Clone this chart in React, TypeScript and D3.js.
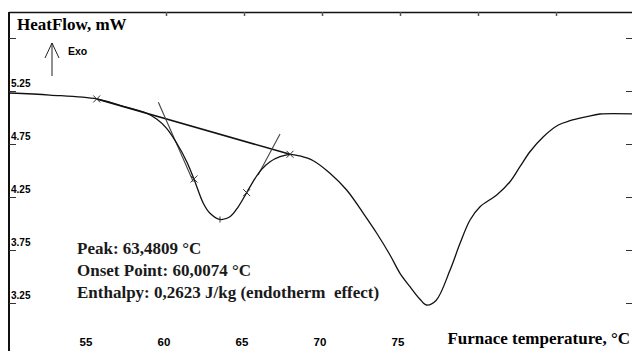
import React, { useRef, useEffect } from "react";
import * as d3 from "d3";

// DSC curve
const temperature = [
  50.0, 52.56, 55.56, 57.05, 58.76, 59.4, 60.04, 60.69, 61.33, 61.79, 62.39, 62.82,
  63.46, 64.1, 64.63, 65.17, 65.71, 66.13, 66.67, 67.31, 67.95, 68.59, 69.44, 70.51,
  71.58, 72.65, 73.51, 74.36, 75.0, 75.64, 76.28, 76.7, 77.31, 78.21, 78.85, 79.49,
  80.13, 81.2, 82.05, 82.69, 83.33, 84.19, 85.15, 85.9, 86.97, 87.82, 90.0,
];
const heatFlow = [
  5.231, 5.212, 5.175, 5.114, 5.040, 4.985, 4.898, 4.757, 4.583, 4.42, 4.191, 4.096,
  4.038, 4.064, 4.158, 4.291, 4.426, 4.511, 4.583, 4.63, 4.653, 4.637, 4.592, 4.474,
  4.316, 4.096, 3.908, 3.703, 3.53, 3.404, 3.285, 3.231, 3.274, 3.561, 3.813, 4.033,
  4.158, 4.269, 4.394, 4.536, 4.677, 4.819, 4.929, 4.97, 5.008, 5.033, 5.033,
];

// construction lines (baseline + tangents), [T, mW] pairs
const baseLine = [[55.56, 5.175], [67.95, 4.653]];
const leftTangent = [[59.51, 5.143], [61.75, 4.394]];
const rightTangent = [[67.31, 4.844], [65.9, 4.458]];
const crossMarks = [[55.56, 5.175], [61.79, 4.42], [65.17, 4.291], [67.95, 4.653]];
const peakMark = [63.46, 4.038];

const yTicks = [5.75, 5.25, 4.75, 4.25, 3.75, 3.25];
const yLabels = ["5.25", "4.75", "4.25", "3.75", "3.25"];
const xTopTicks = [60, 65, 70, 75, 80, 85];
const xLabels = [55, 60, 65, 70, 75];

const infoLines = [
  "Peak: 63,4809 °C",
  "Onset Point: 60,0074 °C",
  "Enthalpy:\u00a00,2623 J/kg (endotherm\u00a0 effect)",
];

const W = 632;
const H = 351;

const App = () => {
  const svgRef = useRef(null);

  useEffect(() => {
    const svg = d3.select(svgRef.current);
    svg.selectAll("*").remove();

    const x = d3.scaleLinear().domain([50, 90]).range([10, 634]);
    const y = d3.scaleLinear().domain([5.25, 3.25]).range([91, 303]);

    const serif = "'Liberation Serif', 'Times New Roman', serif";
    const narrow = "'Liberation Sans Narrow', 'Arial Narrow', 'Liberation Sans', sans-serif";

    svg.append("rect").attr("width", W).attr("height", H).attr("fill", "white");

    // frame
    svg.append("line").attr("x1", 9).attr("x2", W).attr("y1", 12.5).attr("y2", 12.5)
      .attr("stroke", "#111").attr("stroke-width", 1.5);
    svg.append("line").attr("x1", 9).attr("x2", 9).attr("y1", 12).attr("y2", H)
      .attr("stroke", "#111").attr("stroke-width", 2);

    // ticks
    svg.selectAll(".lt").data(yTicks).enter().append("line")
      .attr("x1", 9).attr("x2", 16)
      .attr("y1", d => Math.round(y(d)) + 0.5).attr("y2", d => Math.round(y(d)) + 0.5)
      .attr("stroke", "#333");
    svg.selectAll(".rt").data(yTicks).enter().append("line")
      .attr("x1", 626).attr("x2", W)
      .attr("y1", d => Math.round(y(d)) + 0.5).attr("y2", d => Math.round(y(d)) + 0.5)
      .attr("stroke", "#333");
    svg.selectAll(".tt").data(xTopTicks).enter().append("line")
      .attr("x1", d => Math.round(x(d)) + 0.5).attr("x2", d => Math.round(x(d)) + 0.5)
      .attr("y1", 12).attr("y2", 16)
      .attr("stroke", "#555").attr("stroke-width", 1.5);

    // tick labels
    svg.selectAll(".yl").data(yLabels).enter().append("text")
      .attr("x", 11).attr("y", d => y(+d) - 4)
      .text(d => d)
      .style("font-family", narrow).style("font-weight", "bold").style("font-size", "10px");
    svg.selectAll(".xl").data(xLabels).enter().append("text")
      .attr("x", d => x(d) - 2).attr("y", 346)
      .attr("text-anchor", "middle")
      .text(d => d)
      .style("font-family", narrow).style("font-weight", "bold").style("font-size", "11.5px");

    // titles
    svg.append("text").attr("x", 17).attr("y", 30).text("HeatFlow, mW")
      .style("font-family", serif).style("font-weight", "bold").style("font-size", "17px");
    svg.append("text").attr("x", 630).attr("y", 344).attr("text-anchor", "end")
      .text("Furnace temperature, °C")
      .style("font-family", serif).style("font-weight", "bold").style("font-size", "17px");

    // Exo arrow
    svg.append("path").attr("d", "M52,76 L52,43 M45,58 L52,43 L59,58")
      .attr("fill", "none").attr("stroke", "#222").attr("stroke-width", 1);
    svg.append("text").attr("x", 68).attr("y", 55).text("Exo")
      .style("font-family", "'Liberation Sans', Arial, sans-serif")
      .style("font-weight", "bold").style("font-size", "10.5px");

    // construction lines
    const seg = d3.line().x(d => x(d[0])).y(d => y(d[1]));
    svg.append("path").attr("d", seg(baseLine))
      .attr("fill", "none").attr("stroke", "#111").attr("stroke-width", 1.6);
    [leftTangent, rightTangent].forEach(t => {
      svg.append("path").attr("d", seg(t))
        .attr("fill", "none").attr("stroke", "#444").attr("stroke-width", 1.1);
    });

    // curve
    const pts = temperature.map((t, i) => [t, heatFlow[i]]);
    const line = d3.line().x(d => x(d[0])).y(d => y(d[1])).curve(d3.curveCatmullRom.alpha(0.5));
    svg.append("path").attr("d", line(pts))
      .attr("fill", "none").attr("stroke", "#111").attr("stroke-width", 1.3);

    // markers
    crossMarks.forEach(m => {
      const cx = x(m[0]), cy = y(m[1]);
      svg.append("path")
        .attr("d", `M${cx - 3.5},${cy - 3.5}L${cx + 3.5},${cy + 3.5}M${cx - 3.5},${cy + 3.5}L${cx + 3.5},${cy - 3.5}`)
        .attr("stroke", "#333").attr("stroke-width", 1);
    });
    svg.append("line")
      .attr("x1", x(peakMark[0])).attr("x2", x(peakMark[0]))
      .attr("y1", y(peakMark[1]) - 3).attr("y2", y(peakMark[1]) + 3)
      .attr("stroke", "#333");

    // results text
    svg.selectAll(".info").data(infoLines).enter().append("text")
      .attr("x", 77).attr("y", (d, i) => 254 + i * 22)
      .text(d => d)
      .style("font-family", serif).style("font-weight", "bold").style("font-size", "17px")
      .style("fill", "#1a1a1a");
  }, []);

  return (
    <svg ref={svgRef} width={W} height={H}
      style={{ position: "absolute", left: 0, top: 0, display: "block" }} />
  );
};

export default App;
